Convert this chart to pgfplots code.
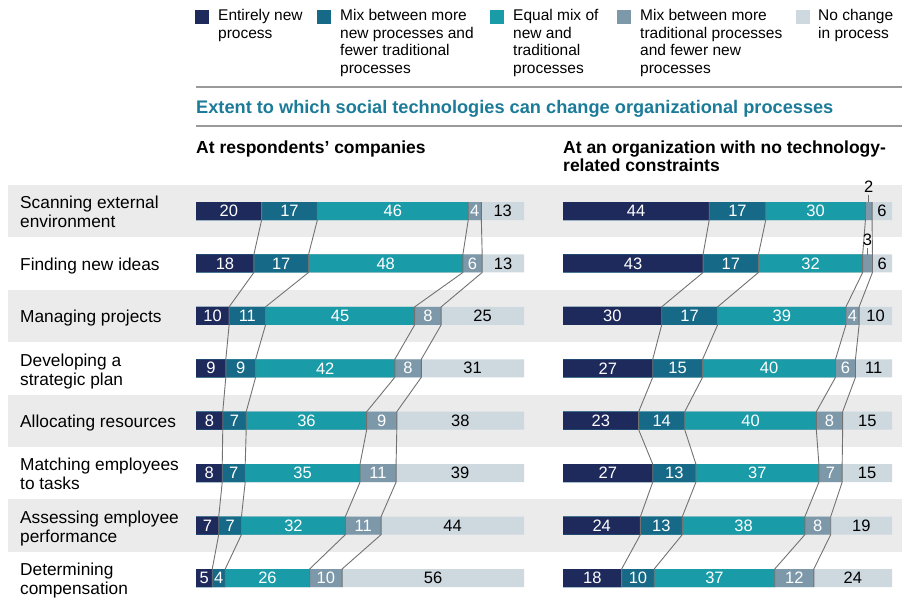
\documentclass[border=0pt]{standalone}
\usepackage{pgfplots}
\pgfplotsset{compat=1.18}
\usepackage{pgfplotstable}
\usepackage{fontspec}
\setmainfont{Liberation Sans}

\definecolor{cA}{HTML}{1F2A5C}
\definecolor{cB}{HTML}{176A87}
\definecolor{cC}{HTML}{1A9BA8}
\definecolor{cD}{HTML}{7C98A9}
\definecolor{cE}{HTML}{CDD8DF}
\definecolor{band}{HTML}{EBEBEB}
\definecolor{linec}{HTML}{727272}
\definecolor{rulec}{HTML}{9A9A9A}
\definecolor{titlec}{HTML}{1B7B98}

\newcommand\barfont{\fontsize{16.5}{18}\selectfont}
\newcommand\rowfont{\fontsize{17.3}{20}\selectfont}
\newcommand\legfont{\fontsize{15.5}{17.5}\selectfont}
\newcommand\tot{(\thisrow{a}+\thisrow{b}+\thisrow{c}+\thisrow{d}+\thisrow{e})}

% shares per row, percent
\pgfplotstableread{
row a b c d e
1 20 17 46 4 13
2 18 17 48 6 13
3 10 11 45 8 25
4 9 9 42 8 31
5 8 7 36 9 38
6 8 7 35 11 39
7 7 7 32 11 44
8 5 4 26 10 56
}\leftdata

\pgfplotstableread{
row a b c d e
1 44 17 30 2 6
2 43 17 32 3 6
3 30 17 39 4 10
4 27 15 40 6 11
5 23 14 40 8 15
6 27 13 37 7 15
7 24 13 38 8 19
8 18 10 37 12 24
}\rightdata

\pgfplotsset{
  panel/.style={scale only axis, hide axis, clip=false, anchor=north west,
    xmin=0, xmax=100, ymin=0.5, ymax=8.42, y dir=reverse, height=415.2pt},
  seg/.style={xbar, bar width=18pt, bar shift=0pt, draw=none, fill=#1},
  lab/.style={draw=none, mark=none, nodes near coords={\pgfplotspointmeta},
    point meta=explicit symbolic,
    nodes near coords style={anchor=center, inner sep=0pt, text=#1, font=\barfont}},
  conn/.style={draw=linec, line width=0.9pt, mark=none},
}

% connector through one segment boundary, rows 1..8 (normalised cumulative shares)
\newcommand\conn[8]{\addplot[conn] coordinates {(#1,0.828)(#1,1.172)(#2,1.828)(#2,2.172)(#3,2.828)(#3,3.172)(#4,3.828)(#4,4.172)(#5,4.828)(#5,5.172)(#6,5.828)(#6,6.172)(#7,6.828)(#7,7.172)(#8,7.828)(#8,8.172)};}

\newcommand\bars[1]{%
  \addplot[seg=cE] table[y=row, x expr=100] {#1};
  \addplot[seg=cD] table[y=row, x expr={(\thisrow{a}+\thisrow{b}+\thisrow{c}+\thisrow{d})*100/\tot}] {#1};
  \addplot[seg=cC] table[y=row, x expr={(\thisrow{a}+\thisrow{b}+\thisrow{c})*100/\tot}] {#1};
  \addplot[seg=cB] table[y=row, x expr={(\thisrow{a}+\thisrow{b})*100/\tot}] {#1};
  \addplot[seg=cA] table[y=row, x expr={\thisrow{a}*100/\tot}] {#1};
}
\newcommand\labels[1]{%
  \addplot[lab=white] table[y=row, x expr={(\thisrow{a}/2)*100/\tot}, meta=a] {#1};
  \addplot[lab=white] table[y=row, x expr={(\thisrow{a}+\thisrow{b}/2)*100/\tot}, meta=b] {#1};
  \addplot[lab=white] table[y=row, x expr={(\thisrow{a}+\thisrow{b}+\thisrow{c}/2)*100/\tot}, meta=c] {#1};
  \addplot[lab=white, restrict expr to domain={\thisrow{d}}{3.5:100}] table[y=row, x expr={(\thisrow{a}+\thisrow{b}+\thisrow{c}+\thisrow{d}/2)*100/\tot}, meta=d] {#1};
  \addplot[lab=black] table[y=row, x expr={100-\thisrow{e}*50/\tot}, meta=e] {#1};
}

\begin{document}
\begin{tikzpicture}
\path[use as bounding box] (0,0) rectangle (902pt,-600pt);

% row bands
\foreach \t in {184.8,289.66,394.52,499.38}
  \fill[band] (8pt,-\t pt) rectangle (902pt,{-(\t+52.43)*1pt});

% legend
\fill[cA] (195pt,-9.5pt) rectangle (209pt,-23.5pt);
\fill[cB] (317pt,-9.5pt) rectangle (331pt,-23.5pt);
\fill[cC] (490pt,-9.5pt) rectangle (504pt,-23.5pt);
\fill[cD] (617pt,-9.5pt) rectangle (631pt,-23.5pt);
\fill[cE] (796pt,-9.5pt) rectangle (810pt,-23.5pt);
\begin{scope}[every node/.style={anchor=base west, inner sep=0pt, font=\legfont}]
\node at (218pt,-20.7pt) {Entirely new};
\node at (218pt,-38.2pt) {process};
\node at (340pt,-20.7pt) {Mix between more};
\node at (340pt,-38.2pt) {new processes and};
\node at (340pt,-55.7pt) {fewer traditional};
\node at (340pt,-73.2pt) {processes};
\node at (513pt,-20.7pt) {Equal mix of};
\node at (513pt,-38.2pt) {new and};
\node at (513pt,-55.7pt) {traditional};
\node at (513pt,-73.2pt) {processes};
\node at (640pt,-20.7pt) {Mix between more};
\node at (640pt,-38.2pt) {traditional processes};
\node at (640pt,-55.7pt) {and fewer new};
\node at (640pt,-73.2pt) {processes};
\node at (818pt,-20.7pt) {No change};
\node at (818pt,-38.2pt) {in process};
\end{scope}

\draw[rulec, line width=1.5pt] (196pt,-87pt) -- (902pt,-87pt);
\draw[rulec, line width=1.5pt] (196pt,-126pt) -- (902pt,-126pt);
\node[anchor=base west, inner sep=0pt, text=titlec, font=\fontsize{18.2}{20}\selectfont\bfseries]
  at (196pt,-113.5pt) {Extent to which social technologies can change organizational processes};

\begin{scope}[every node/.style={anchor=base west, inner sep=0pt, font=\fontsize{17.5}{18}\selectfont\bfseries}]
\node at (196pt,-153pt) {At respondents’ companies};
\node at (563pt,-153pt) {At an organization with no technology-};
\node at (563pt,-171.5pt) {related constraints};
\end{scope}

% row labels
\begin{scope}[every node/.style={anchor=base west, inner sep=0pt, font=\rowfont}]
\node at (20pt,-208.7pt) {Scanning external};
\node at (20pt,-227.7pt) {environment};
\node at (20pt,-270.4pt) {Finding new ideas};
\node at (20pt,-322.9pt) {Managing projects};
\node at (20pt,-366pt) {Developing a};
\node at (20pt,-385pt) {strategic plan};
\node at (20pt,-427.7pt) {Allocating resources};
\node at (20pt,-470.9pt) {Matching employees};
\node at (20pt,-489.9pt) {to tasks};
\node at (20pt,-523.3pt) {Assessing employee};
\node at (20pt,-542.3pt) {performance};
\node at (20pt,-575.7pt) {Determining};
\node at (20pt,-594.7pt) {compensation};
\end{scope}

\begin{axis}[panel, at={(196pt,-184.8pt)}, width=328pt]
\bars{\leftdata}
\conn{20}{17.65}{10.10}{9.09}{8.16}{8}{6.93}{4.95}
\conn{37}{34.31}{21.21}{18.18}{15.31}{15}{13.86}{8.91}
\conn{83}{81.37}{66.67}{60.61}{52.04}{50}{45.54}{34.65}
\conn{87}{87.25}{74.75}{68.69}{61.22}{61}{56.44}{44.55}
\labels{\leftdata}
\end{axis}

\begin{axis}[panel, at={(563pt,-184.8pt)}, width=329pt]
\bars{\rightdata}
\conn{44.44}{42.57}{30}{27.27}{23}{27.27}{23.53}{17.82}
\conn{61.62}{59.41}{47}{42.42}{37}{40.40}{36.27}{27.72}
\conn{91.92}{91.09}{86}{82.83}{77}{77.78}{73.53}{64.36}
\conn{93.94}{94.06}{90}{88.89}{85}{84.85}{81.37}{76.24}
\labels{\rightdata}
% small shares labelled above the bar
\addplot[lab=black, restrict expr to domain={\thisrow{d}}{0:3.5}]
  table[y expr={\thisrow{row}-0.46}, x expr={(\thisrow{a}+\thisrow{b}+\thisrow{c}+\thisrow{d}/2)*100/\tot}, meta=d] {\rightdata};
\addplot[draw=none, mark=none, restrict expr to domain={\thisrow{d}}{0:3.5},
  nodes near coords={\textcolor{linec}{\rule{1.2pt}{7pt}}},
  nodes near coords style={anchor=south, inner sep=0pt}]
  table[y expr={\thisrow{row}-0.16}, x expr={(\thisrow{a}+\thisrow{b}+\thisrow{c}+\thisrow{d}/2)*100/\tot}] {\rightdata};
\end{axis}
\end{tikzpicture}
\end{document}
